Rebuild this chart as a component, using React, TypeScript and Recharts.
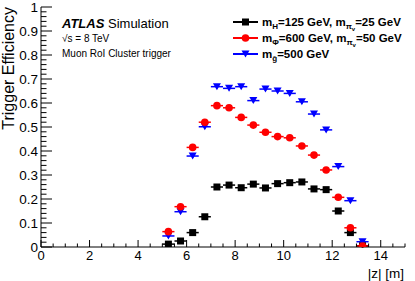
import React from 'react';
import { ScatterChart, Scatter, XAxis, YAxis, ErrorBar, Label } from 'recharts';

// bin centres in |z| [m], 0.5 m wide bins
const zBins = [5.25, 5.75, 6.25, 6.75, 7.25, 7.75, 8.25, 8.75, 9.25, 9.75, 10.25, 10.75, 11.25, 11.75, 12.25, 12.75, 13.25];

const higgsEff = [0.012, 0.025, 0.06, 0.126, 0.25, 0.258, 0.247, 0.262, 0.246, 0.264, 0.268, 0.271, 0.242, 0.239, 0.15, 0.06, 0.005];
const phiEff = [0.064, 0.168, 0.415, 0.52, 0.589, 0.58, 0.54, 0.508, 0.478, 0.46, 0.455, 0.421, 0.383, 0.321, 0.207, 0.08, 0.004];
const gluinoEff = [0.046, 0.147, 0.379, 0.501, 0.668, 0.661, 0.668, 0.61, 0.658, 0.65, 0.64, 0.605, 0.554, 0.488, 0.335, 0.193, 0.022];

const xMajor = [0, 2, 4, 6, 8, 10, 12, 14];
const xTicks = [0, 0.5, 1, 1.5, 2, 2.5, 3, 3.5, 4, 4.5, 5, 5.5, 6, 6.5, 7, 7.5, 8, 8.5, 9, 9.5, 10, 10.5, 11, 11.5, 12, 12.5, 13, 13.5, 14, 14.5, 15];
const yTicks = [0, 0.02, 0.04, 0.06, 0.08, 0.1, 0.12, 0.14, 0.16, 0.18, 0.2, 0.22, 0.24, 0.26, 0.28, 0.3, 0.32, 0.34, 0.36, 0.38, 0.4, 0.42, 0.44, 0.46, 0.48, 0.5, 0.52, 0.54, 0.56, 0.58, 0.6, 0.62, 0.64, 0.66, 0.68, 0.7, 0.72, 0.74, 0.76, 0.78, 0.8, 0.82, 0.84, 0.86, 0.88, 0.9, 0.92, 0.94, 0.96, 0.98, 1];

const FONT = '"Liberation Sans", Arial, sans-serif';

const toPoints = (eff: number[]) => zBins.map((z, i) => ({ z, eff: eff[i], xerr: 0.25, yerr: 0.008 }));

const isMajorY = (v: number) => Math.abs(v * 10 - Math.round(v * 10)) < 1e-6;
const isMajorX = (v: number) => xMajor.includes(v);
const fmtY = (v: number) => (v === 0 ? '0' : v === 1 ? '1' : v.toFixed(1));

const BottomTick = (props: any) => {
  const { x, y, payload } = props;
  const major = isMajorX(payload.value);
  return (
    <g>
      <line x1={x} y1={y} x2={x} y2={y - (major ? 7 : 3.5)} stroke="#000" />
      {major && (
        <text x={x} y={y + 4} dy="0.71em" textAnchor="middle" fontSize={13} fontFamily={FONT} fill="#000">
          {payload.value}
        </text>
      )}
    </g>
  );
};

const TopTick = (props: any) => {
  const { x, y, payload } = props;
  const major = isMajorX(payload.value);
  return <line x1={x} y1={y} x2={x} y2={y + (major ? 7 : 3.5)} stroke="#000" />;
};

const LeftTick = (props: any) => {
  const { x, y, payload } = props;
  const major = isMajorY(payload.value);
  return (
    <g>
      <line x1={x} y1={y} x2={x + (major ? 11 : 5.5)} y2={y} stroke="#000" />
      {major && (
        <text x={x - 3} y={y} dy="0.36em" textAnchor="end" fontSize={13.5} fontFamily={FONT} fill="#000">
          {fmtY(payload.value)}
        </text>
      )}
    </g>
  );
};

const RightTick = (props: any) => {
  const { x, y, payload } = props;
  const major = isMajorY(payload.value);
  return <line x1={x} y1={y} x2={x - (major ? 11 : 5.5)} y2={y} stroke="#000" />;
};

const Square = (props: any) => <rect x={props.cx - 3.5} y={props.cy - 3.5} width={7} height={7} fill="#000" />;
const Dot = (props: any) => <circle cx={props.cx} cy={props.cy} r={3.8} fill="#ff0000" />;
const TriDown = (props: any) => (
  <path d={`M${props.cx - 4},${props.cy - 3.5} L${props.cx + 4},${props.cy - 3.5} L${props.cx},${props.cy + 3.5} Z`} fill="#0000ff" />
);

const Annotations = () => (
  <svg width={415} height={281} style={{ position: 'absolute', left: 0, top: 0, pointerEvents: 'none' }} fontFamily={FONT}>
    <text transform="rotate(-90)" x={-7} y={14} textAnchor="end" fontSize={16} fill="#000">
      Trigger Efficiency
    </text>
    <text x={62} y={28} fontSize={13} fill="#000">
      <tspan fontWeight="bold" fontStyle="italic">ATLAS</tspan>
      <tspan> Simulation</tspan>
    </text>
    <text x={62} y={42} fontSize={10} fill="#000">√s = 8 TeV</text>
    <text x={62} y={57} fontSize={10} fill="#000">Muon RoI Cluster trigger</text>

    {/* legend */}
    <line x1={233} y1={22} x2={258} y2={22} stroke="#000" strokeWidth={2} />
    <rect x={242} y={18.5} width={7} height={7} fill="#000" />
    <text x={262} y={26} fontSize={11.5} fontWeight="bold" fill="#000">
      m<tspan dy={3} fontSize={8}>H</tspan>
      <tspan dy={-3}>=125 GeV, m</tspan>
      <tspan dy={3} fontSize={8}>π</tspan>
      <tspan dy={2} fontSize={6}>v</tspan>
      <tspan dy={-5}>=25 GeV</tspan>
    </text>

    <line x1={233} y1={38} x2={258} y2={38} stroke="#ff0000" strokeWidth={2} />
    <circle cx={245.5} cy={38} r={3.8} fill="#ff0000" />
    <text x={262} y={42} fontSize={11.5} fontWeight="bold" fill="#000">
      m<tspan dy={3} fontSize={8}>Φ</tspan>
      <tspan dy={-3}>=600 GeV, m</tspan>
      <tspan dy={3} fontSize={8}>π</tspan>
      <tspan dy={2} fontSize={6}>v</tspan>
      <tspan dy={-5}>=50 GeV</tspan>
    </text>

    <line x1={233} y1={54} x2={258} y2={54} stroke="#0000ff" strokeWidth={2} />
    <path d="M241.5,50.5 L249.5,50.5 L245.5,57.5 Z" fill="#0000ff" />
    <text x={262} y={58} fontSize={11.5} fontWeight="bold" fill="#000">
      m<tspan dy={3} fontSize={8}>{'g\u0303'}</tspan>
      <tspan dy={-3}>=500 GeV</tspan>
    </text>
  </svg>
);

const App = () => {
  return (
    <div style={{ position: 'absolute', left: 0, top: 0, width: 415, height: 281, background: '#fff' }}>
      <ScatterChart width={415} height={281} margin={{ top: 7, right: 10, bottom: 0, left: 0 }}>
        <XAxis
          dataKey="z"
          type="number"
          domain={[0, 15]}
          ticks={xTicks}
          interval={0}
          tick={<BottomTick />}
          tickLine={false}
          tickSize={0}
          tickMargin={0}
          height={34}
          axisLine={{ stroke: '#000' }}
          allowDataOverflow
        >
          <Label
            content={() => (
              <text x={404} y={278} textAnchor="end" fontSize={13.5} fontFamily={FONT} fill="#000">
                |z| [m]
              </text>
            )}
          />
        </XAxis>
        <XAxis
          xAxisId="top"
          orientation="top"
          type="number"
          domain={[0, 15]}
          ticks={xTicks}
          interval={0}
          tick={<TopTick />}
          tickLine={false}
          tickSize={0}
          tickMargin={0}
          height={0}
          axisLine={{ stroke: '#000' }}
          allowDataOverflow
        />
        <YAxis
          dataKey="eff"
          type="number"
          domain={[0, 1]}
          ticks={yTicks}
          interval={0}
          tick={<LeftTick />}
          tickLine={false}
          tickSize={0}
          tickMargin={0}
          width={41}
          axisLine={{ stroke: '#000' }}
          allowDataOverflow
        />
        <YAxis
          yAxisId="right"
          orientation="right"
          type="number"
          domain={[0, 1]}
          ticks={yTicks}
          interval={0}
          tick={<RightTick />}
          tickLine={false}
          tickSize={0}
          tickMargin={0}
          width={0}
          axisLine={{ stroke: '#000' }}
          allowDataOverflow
        />
        <Scatter name="higgs" data={toPoints(higgsEff)} shape={<Square />} isAnimationActive={false}>
          <ErrorBar dataKey="xerr" direction="x" width={0} stroke="#000" strokeWidth={1.5} />
          <ErrorBar dataKey="yerr" direction="y" width={0} stroke="#000" strokeWidth={1.5} />
        </Scatter>
        <Scatter name="gluino" data={toPoints(gluinoEff)} shape={<TriDown />} isAnimationActive={false}>
          <ErrorBar dataKey="xerr" direction="x" width={0} stroke="#0000ff" strokeWidth={1.5} />
          <ErrorBar dataKey="yerr" direction="y" width={0} stroke="#0000ff" strokeWidth={1.5} />
        </Scatter>
        <Scatter name="phi" data={toPoints(phiEff)} shape={<Dot />} isAnimationActive={false}>
          <ErrorBar dataKey="xerr" direction="x" width={0} stroke="#ff0000" strokeWidth={1.5} />
          <ErrorBar dataKey="yerr" direction="y" width={0} stroke="#ff0000" strokeWidth={1.5} />
        </Scatter>
      </ScatterChart>
      <Annotations />
    </div>
  );
};

export default App;
